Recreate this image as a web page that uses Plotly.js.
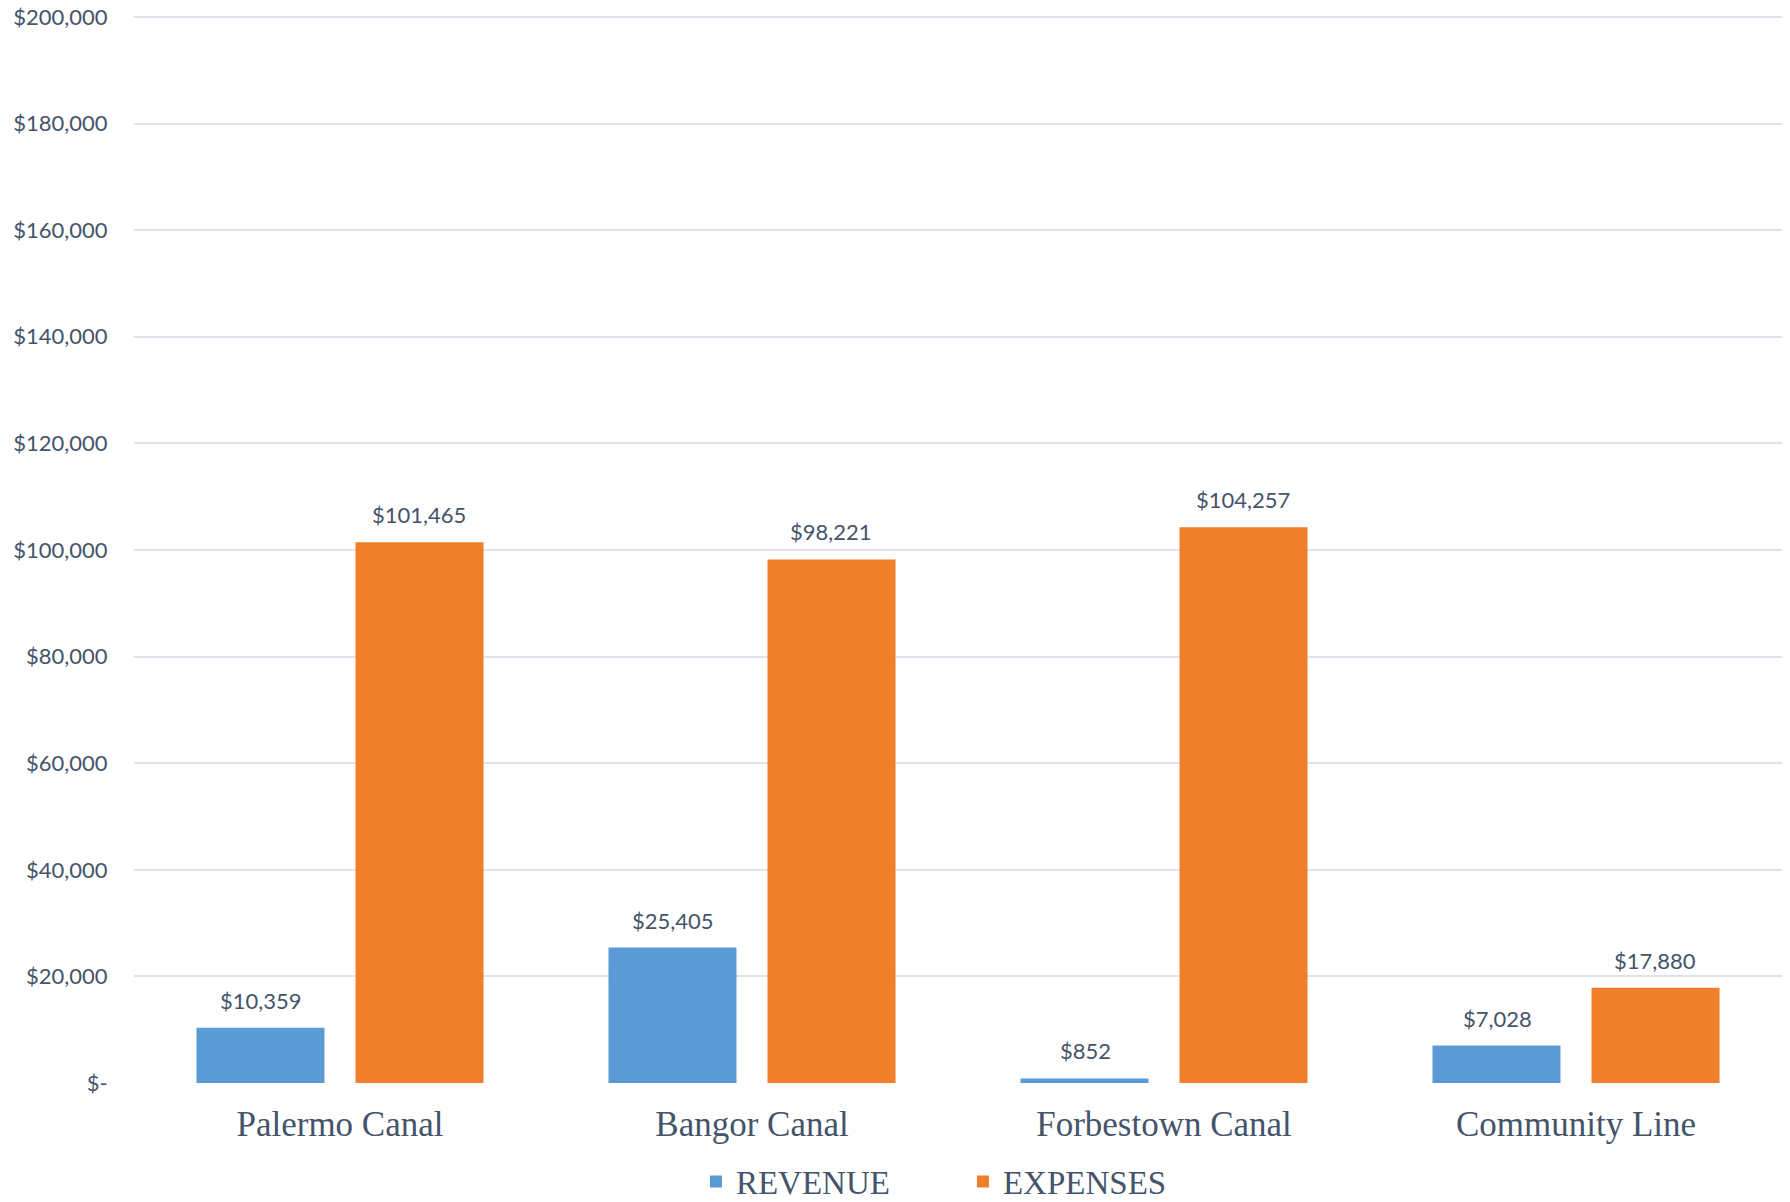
<!DOCTYPE html>
<html>
<head>
<meta charset="utf-8">
<script src="https://cdn.plot.ly/plotly-3.0.1.min.js"></script>
<style>
html,body{margin:0;padding:0;background:#fff;}
#chart{width:1790px;height:1202px;}
</style>
</head>
<body>
<div id="chart"></div>
<script>
const categories = ["Palermo Canal", "Bangor Canal", "Forbestown Canal", "Community Line"];
const revenue = [10359, 25405, 852, 7028];
const expenses = [101465, 98221, 104257, 17880];
const tickValues = [0, 20000, 40000, 60000, 80000, 100000, 120000, 140000, 160000, 180000, 200000];
const tickLabels = ["$-", "$20,000", "$40,000", "$60,000", "$80,000", "$100,000", "$120,000", "$140,000", "$160,000", "$180,000", "$200,000"];

const textColor = "#44546A";
const labelFont = {family: "Lato, 'Open Sans', sans-serif", size: 22, color: textColor};
const serif = "'Liberation Serif', 'Times New Roman', serif";

const fmt = v => "$" + v.toLocaleString("en-US");

const annotations = [];
categories.forEach((c, i) => {
  annotations.push({x: c, y: revenue[i], xref: "x", yref: "y", text: fmt(revenue[i]),
    showarrow: false, yanchor: "bottom", xanchor: "center", xshift: -79, yshift: 12, font: labelFont});
  annotations.push({x: c, y: expenses[i], xref: "x", yref: "y", text: fmt(expenses[i]),
    showarrow: false, yanchor: "bottom", xanchor: "center", xshift: 79, yshift: 12, font: labelFont});
});

const data = [
  {type: "bar", name: "REVENUE", x: categories, y: revenue,
   marker: {color: "#5b9bd5", line: {width: 0}}, hoverinfo: "y"},
  {type: "bar", name: "EXPENSES", x: categories, y: expenses,
   marker: {color: "#f07f2c", line: {width: 0}}, hoverinfo: "y"}
];

const yMax = tickValues[tickValues.length - 1];

const layout = {
  width: 1790, height: 1202,
  margin: {l: 134, r: 8, t: 14, b: 119, pad: 0, autoexpand: false},
  paper_bgcolor: "#ffffff", plot_bgcolor: "#ffffff",
  barmode: "group", bargap: 0.228, bargroupgap: 0.195,
  showlegend: true,
  legend: {orientation: "h", xref: "paper", x: 0.503, xanchor: "center",
    yref: "container", y: 0.017, yanchor: "middle", entrywidth: 222,
    font: {family: serif, size: 33, color: textColor},
    itemclick: false, itemdoubleclick: false},
  xaxis: {type: "category", showgrid: false, zeroline: false, showline: false,
    automargin: false,
    ticks: "outside", ticklen: 10, tickcolor: "rgba(0,0,0,0)",
    tickfont: {family: serif, size: 35, color: textColor}},
  yaxis: {range: [0, yMax * 1.0028], tickvals: tickValues, ticktext: tickLabels,
    automargin: false,
    showgrid: true, gridcolor: "#dfe3e9", gridwidth: 2, zeroline: false, showline: false,
    ticks: "outside", ticklen: 21, tickcolor: "rgba(0,0,0,0)",
    tickfont: labelFont},
  annotations: annotations
};

Plotly.newPlot("chart", data, layout, {displayModeBar: false, staticPlot: true});
</script>
</body>
</html>
